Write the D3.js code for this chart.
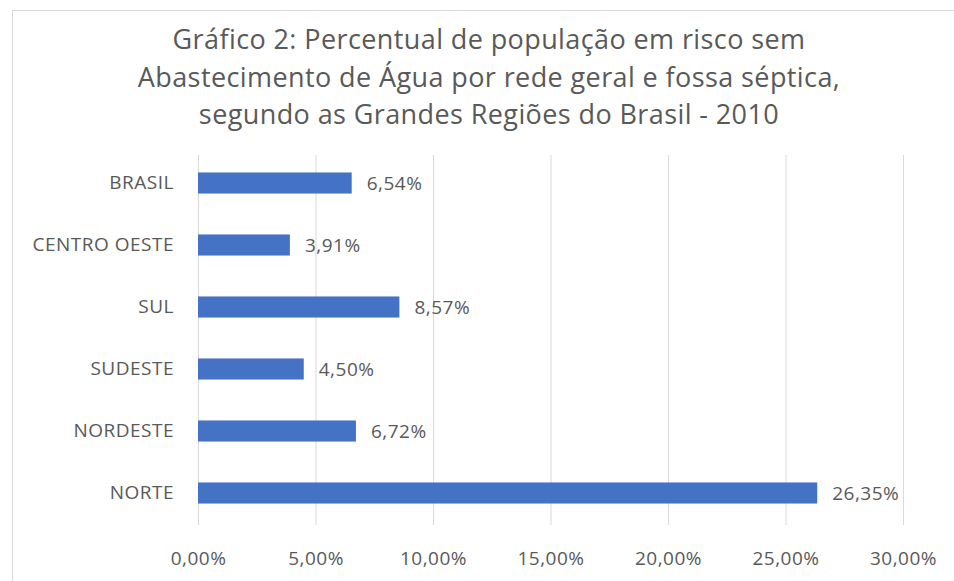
<!DOCTYPE html>
<html>
<head>
<meta charset="utf-8">
<script src="https://cdn.jsdelivr.net/npm/d3@7"></script>
<style>
  body { margin: 0; background: #fff; }
  text { font-family: "Open Sans", "Noto Sans", sans-serif; fill: #595959; }
</style>
</head>
<body>
<script>
const width = 954;
const height = 581;

const categories = ['BRASIL', 'CENTRO OESTE', 'SUL', 'SUDESTE', 'NORDESTE', 'NORTE'];
const values = [6.54, 3.91, 8.57, 4.50, 6.72, 26.35];
const ticks = [0, 5, 10, 15, 20, 25, 30];
const titleLines = [
  'Gráfico 2: Percentual de população em risco sem',
  'Abastecimento de Água por rede geral e fossa séptica,',
  'segundo as Grandes Regiões do Brasil - 2010'
];

const fmt = v => v.toFixed(2).replace('.', ',') + '%';

const svg = d3.select('body').append('svg')
  .attr('width', width)
  .attr('height', height);

// chart frame
svg.append('rect')
  .attr('x', 12.5).attr('y', 10.5)
  .attr('width', 960).attr('height', 580)
  .attr('fill', '#fff')
  .attr('stroke', '#d9d9d9');

// title
svg.append('g').selectAll('text')
  .data(titleLines)
  .enter().append('text')
    .attr('x', 489)
    .attr('y', (d, i) => 49 + i * 37.5)
    .attr('text-anchor', 'middle')
    .attr('font-size', 27)
    .attr('letter-spacing', 0.4)
    .text(d => d);

const x = d3.scaleLinear().domain([0, 30]).range([198, 903]);
const y = d3.scaleBand().domain(categories).range([152, 524]).paddingInner(0.66).paddingOuter(0.33);

// gridlines
svg.append('g').selectAll('line')
  .data(ticks)
  .enter().append('line')
    .attr('x1', d => x(d) + 0.5).attr('x2', d => x(d) + 0.5)
    .attr('y1', 155).attr('y2', 525)
    .attr('stroke', '#d9d9d9');

// x axis labels
const xAxis = svg.append('g')
  .attr('transform', 'translate(0,548)')
  .call(d3.axisBottom(x).tickValues(ticks).tickFormat(fmt).tickSize(0));
xAxis.select('.domain').remove();
xAxis.selectAll('text')
  .attr('font-size', 19)
  .attr('letter-spacing', 0.5)
  .attr('fill', '#595959');

// y axis labels
const yAxis = svg.append('g')
  .attr('transform', 'translate(177,0)')
  .call(d3.axisLeft(y).tickSize(0));
yAxis.select('.domain').remove();
yAxis.selectAll('text')
  .attr('font-size', 19)
  .attr('letter-spacing', 0.5)
  .attr('fill', '#595959');

// bars
svg.append('g').selectAll('rect')
  .data(values)
  .enter().append('rect')
    .attr('x', x(0))
    .attr('y', (d, i) => y(categories[i]))
    .attr('width', d => x(d) - x(0))
    .attr('height', y.bandwidth())
    .attr('fill', '#4472c4');

// value labels
svg.append('g').selectAll('text')
  .data(values)
  .enter().append('text')
    .attr('x', d => x(d) + 15)
    .attr('y', (d, i) => y(categories[i]) + y.bandwidth() / 2)
    .attr('dy', '0.35em')
    .attr('font-size', 19)
    .attr('letter-spacing', 0.5)
    .text(fmt);
</script>
</body>
</html>
